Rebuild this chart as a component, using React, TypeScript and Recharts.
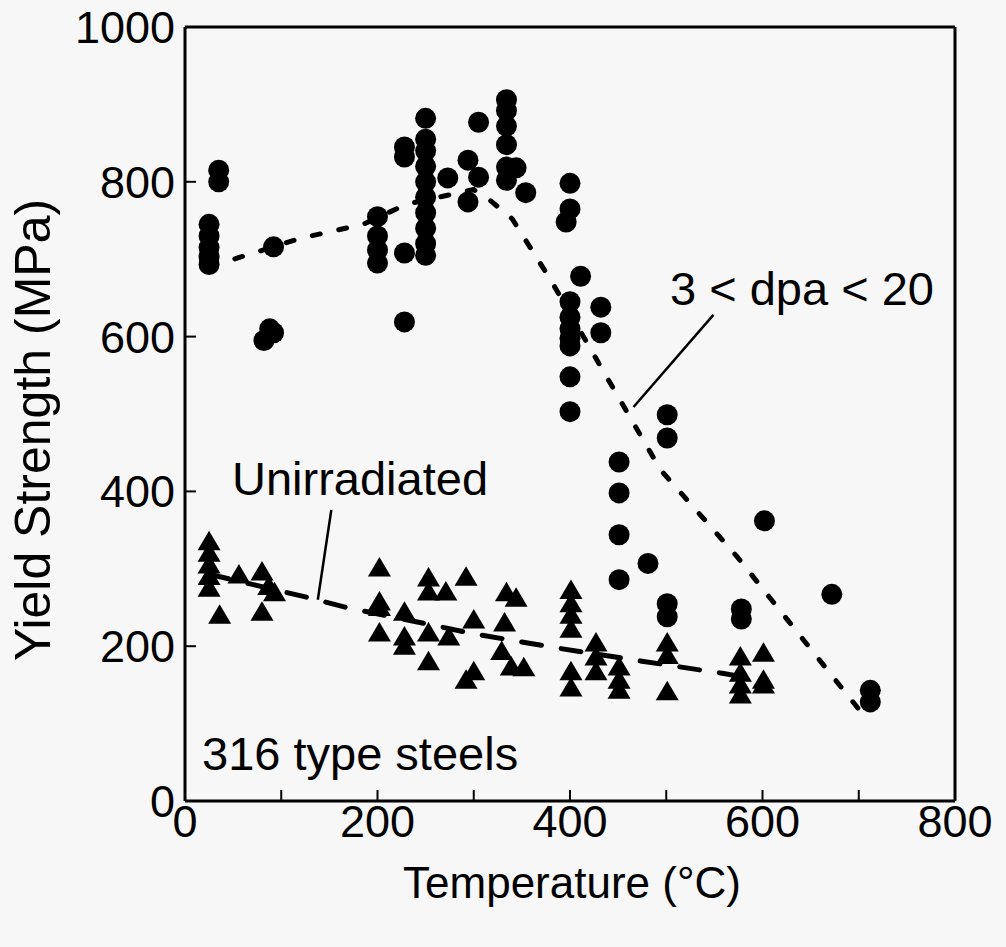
import { useEffect } from 'react'
import { ScatterChart, Scatter, XAxis, YAxis, ReferenceLine } from 'recharts'

const FONT = '"Liberation Sans", Arial, Helvetica, sans-serif'
const INK = '#000'

// [temperature °C, yield strength MPa]
const irradiated: [number, number][] = [
  [25, 745], [25, 730], [25, 715], [25, 703], [25, 693],
  [35, 815], [35, 800],
  [82, 595], [88, 610], [92, 605], [92, 716],
  [200, 755], [200, 730], [200, 712], [200, 695],
  [228, 845], [228, 832], [228, 708], [228, 619],
  [250, 882], [250, 855], [250, 840], [250, 820], [250, 800], [250, 780], [250, 760], [250, 740], [250, 720], [250, 705],
  [273, 805], [294, 828], [294, 774], [305, 877], [305, 806],
  [334, 906], [334, 892], [334, 872], [334, 848], [334, 819], [334, 802],
  [344, 818], [354, 786],
  [400, 798], [400, 765], [396, 748],
  [400, 645], [400, 625], [400, 610], [400, 598], [400, 588], [400, 548], [400, 503],
  [411, 678], [432, 638], [432, 605],
  [451, 438], [451, 398], [451, 344], [451, 286], [481, 307],
  [501, 499], [501, 469], [501, 255], [501, 238],
  [578, 248], [578, 235], [602, 362], [672, 267],
  [712, 143], [712, 128],
]

const unirradiated: [number, number][] = [
  [25, 335], [25, 320], [25, 305], [25, 290], [25, 275],
  [36, 240], [56, 292], [80, 296], [80, 244], [87, 277], [93, 269],
  [202, 301], [202, 257], [202, 250], [202, 217],
  [228, 244], [228, 212], [228, 200],
  [253, 288], [253, 270], [253, 217], [253, 180],
  [271, 270], [274, 212], [292, 289], [292, 156], [300, 234], [300, 167],
  [334, 269], [332, 230], [344, 262], [329, 193], [339, 173], [352, 172],
  [401, 272], [401, 255], [401, 240], [401, 222], [401, 167], [401, 146],
  [427, 204], [427, 186], [427, 167],
  [451, 173], [451, 156], [451, 143],
  [501, 204], [501, 188], [501, 141],
  [577, 186], [577, 165], [577, 150], [577, 137],
  [601, 191], [601, 156], [601, 150],
]

// hand-drawn trend lines
const irradiatedTrend: [number, number][] = [
  [25, 690], [120, 727], [185, 745], [230, 771], [300, 790], [318, 775],
  [340, 752], [380, 673], [432, 561], [494, 428], [574, 315], [710, 103],
]
const unirradiatedTrend: [number, number][] = [
  [25, 293], [124, 264], [168, 250], [262, 226], [300, 216],
  [385, 198], [473, 181], [558, 165], [592, 158],
]

const xTicks = [0, 100, 200, 300, 400, 500, 600, 700, 800]
const yTicks = [0, 200, 400, 600, 800, 1000]

const toXY = (rows: [number, number][]) => rows.map(([x, y]) => ({ x, y }))

function Dot({ cx, cy }: any) {
  return <circle cx={cx} cy={cy} r={10.5} fill={INK} />
}

function Tri({ cx, cy }: any) {
  return <polygon points={`${cx},${cy - 11} ${cx - 11.5},${cy + 8.5} ${cx + 11.5},${cy + 8.5}`} fill={INK} />
}

const noShape = () => <g />

const axisLine = { stroke: INK, strokeWidth: 3 }
const tickLine = { stroke: INK, strokeWidth: 2 }
const tickText = { fill: INK, fontSize: 45, fontFamily: FONT }

export default function App() {
  useEffect(() => {
    document.body.style.background = '#f7f7f7'
  }, [])

  return (
    <div style={{ position: 'relative', width: 990, height: 930 }}>
      <ScatterChart width={990} height={930} margin={{ top: 18, right: 42, bottom: 77, left: 0 }}>
        <XAxis
          type="number"
          dataKey="x"
          domain={[0, 800]}
          ticks={xTicks}
          interval={0}
          tickFormatter={(v) => (v % 200 === 0 ? String(v) : '')}
          tickSize={-11}
          tickMargin={15}
          height={60}
          axisLine={axisLine}
          tickLine={tickLine}
          tick={tickText}
          allowDataOverflow
        />
        <XAxis
          xAxisId="top"
          orientation="top"
          type="number"
          dataKey="x"
          domain={[0, 800]}
          ticks={xTicks}
          interval={0}
          tickFormatter={() => ''}
          tickSize={-11}
          height={1}
          axisLine={axisLine}
          tickLine={tickLine}
        />
        <YAxis
          type="number"
          dataKey="y"
          domain={[0, 1000]}
          ticks={yTicks}
          interval={0}
          tickSize={-11}
          tickMargin={21}
          width={177}
          axisLine={axisLine}
          tickLine={tickLine}
          tick={tickText}
          allowDataOverflow
        />
        <YAxis
          yAxisId="right"
          orientation="right"
          type="number"
          dataKey="y"
          domain={[0, 1000]}
          ticks={yTicks}
          interval={0}
          tickFormatter={() => ''}
          tickSize={-11}
          width={1}
          axisLine={axisLine}
          tickLine={tickLine}
        />

        <Scatter
          data={toXY(unirradiatedTrend)}
          shape={noShape}
          line={{ stroke: INK, strokeWidth: 5, strokeDasharray: '20 20', strokeLinecap: 'round' }}
          isAnimationActive={false}
        />
        <Scatter
          data={toXY(irradiatedTrend)}
          shape={noShape}
          line={{ stroke: INK, strokeWidth: 5, strokeDasharray: '8 19', strokeLinecap: 'round' }}
          isAnimationActive={false}
        />
        <Scatter data={toXY(irradiated)} shape={Dot} isAnimationActive={false} />
        <Scatter data={toXY(unirradiated)} shape={Tri} isAnimationActive={false} />

        {/* leader lines for the annotations */}
        <ReferenceLine segment={[{ x: 152, y: 376 }, { x: 138, y: 260 }]} stroke={INK} strokeWidth={2.5} />
        <ReferenceLine segment={[{ x: 549, y: 628 }, { x: 466, y: 509 }]} stroke={INK} strokeWidth={2.5} />
      </ScatterChart>

      <svg
        width={990}
        height={930}
        style={{ position: 'absolute', left: 0, top: 0, pointerEvents: 'none' }}
        fontFamily={FONT}
        fill={INK}
      >
        <text x={564} y={890} textAnchor="middle" fontSize={44}>Temperature (°C)</text>
        <text x={25} y={422} textAnchor="middle" dominantBaseline="central" fontSize={50} transform="rotate(-90, 25, 422)">
          Yield Strength (MPa)
        </text>
        <text x={224} y={487} fontSize={47}>Unirradiated</text>
        <text x={662} y={297} fontSize={47}>3 &lt; dpa &lt; 20</text>
        <text x={194} y={762} fontSize={47}>316 type steels</text>
      </svg>
    </div>
  )
}
